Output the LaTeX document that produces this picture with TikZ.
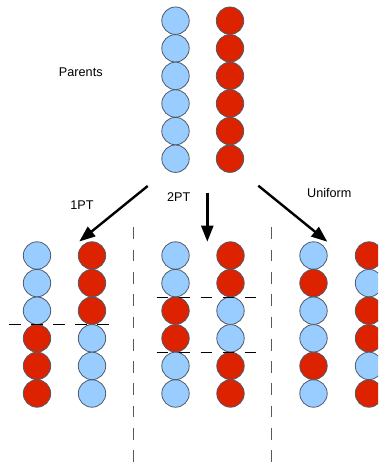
\documentclass[tikz,border=0pt]{standalone}
\usepackage{fontspec}
\setmainfont{Liberation Sans}
\usetikzlibrary{arrows.meta}
\definecolor{colb}{RGB}{153,204,255}
\definecolor{colr}{RGB}{221,34,0}
\definecolor{coledge}{RGB}{80,90,105}
\begin{document}
\begin{tikzpicture}[x=1bp,y=-1bp,
  ball/.style={circle,draw=coledge,line width=0.8bp,minimum size=27.4bp,inner sep=0pt},
  lab/.style={font=\fontsize{12.7}{15}\selectfont,inner sep=0pt,anchor=base},
  arr/.style={line width=2.4bp,-{Triangle[length=16bp,width=12bp]}},
  sepline/.style={draw=black!65,line width=1.3bp,dash pattern=on 11.7bp off 10.6bp},
  cutline/.style={draw=black,line width=0.9bp,dash pattern=on 11.7bp off 10.3bp}]
\clip (0,0) rectangle (378,463);
\fill[white] (0,0) rectangle (378,463);

% separators
\coordinate (s1a) at (133.7,227.3); \coordinate (s1b) at (133.7,463);
\coordinate (s2a) at (271.7,227.3); \coordinate (s2b) at (271.7,463);
\draw[sepline] (s1a) -- (s1b);
\draw[sepline] (s2a) -- (s2b);

% parents
\foreach \c [count=\i] in {b,b,b,b,b,b}
  \node[ball,fill=col\c] (pL\i) at (175.5,{20.7+27.6*(\i-1)}) {};
\foreach \c [count=\i] in {r,r,r,r,r,r}
  \node[ball,fill=col\c] (pR\i) at (230,{20.7+27.6*(\i-1)}) {};

% 1PT
\foreach \c [count=\i] in {b,b,b,r,r,r}
  \node[ball,fill=col\c] (aL\i) at (37,{255.5+27.6*(\i-1)}) {};
\foreach \c [count=\i] in {r,r,r,b,b,b}
  \node[ball,fill=col\c] (aR\i) at (92,{255.5+27.6*(\i-1)}) {};

% 2PT
\foreach \c [count=\i] in {b,b,r,r,b,b}
  \node[ball,fill=col\c] (bL\i) at (175.5,{255.5+27.6*(\i-1)}) {};
\foreach \c [count=\i] in {r,r,b,b,r,r}
  \node[ball,fill=col\c] (bR\i) at (230.5,{255.5+27.6*(\i-1)}) {};

% Uniform
\foreach \c [count=\i] in {b,r,b,b,r,b}
  \node[ball,fill=col\c] (uL\i) at (313.5,{255.5+27.6*(\i-1)}) {};
\foreach \c [count=\i] in {r,b,r,r,b,r}
  \node[ball,fill=col\c] (uR\i) at (369,{255.5+27.6*(\i-1)}) {};

% cut lines
\coordinate (c1a) at (9.3,324.5); \coordinate (c1b) at (110,324.5);
\coordinate (c2a) at (156.7,297); \coordinate (c2b) at (260,297);
\coordinate (c3a) at (156.7,352); \coordinate (c3b) at (260,352);
\draw[cutline] (c1a) -- (c1b);
\draw[cutline] (c2a) -- (c2b);
\draw[cutline] (c3a) -- (c3b);

% arrows
\coordinate (a1s) at (147.7,186); \coordinate (a1e) at (79.3,241.5);
\coordinate (a2s) at (207.3,192.7); \coordinate (a2e) at (207.3,241.7);
\coordinate (a3s) at (258.3,185.7); \coordinate (a3e) at (327.3,241.7);
\draw[arr] (a1s) -- (a1e);
\draw[arr] (a2s) -- (a2e);
\draw[arr] (a3s) -- (a3e);

% labels
\node[lab] (tpar) at (80.8,76.5) {Parents};
\node[lab] (t1) at (82,210) {1PT};
\node[lab] (t2) at (178.8,201.7) {2PT};
\node[lab] (tu) at (329.3,197.3) {Uniform};
\end{tikzpicture}
\end{document}
